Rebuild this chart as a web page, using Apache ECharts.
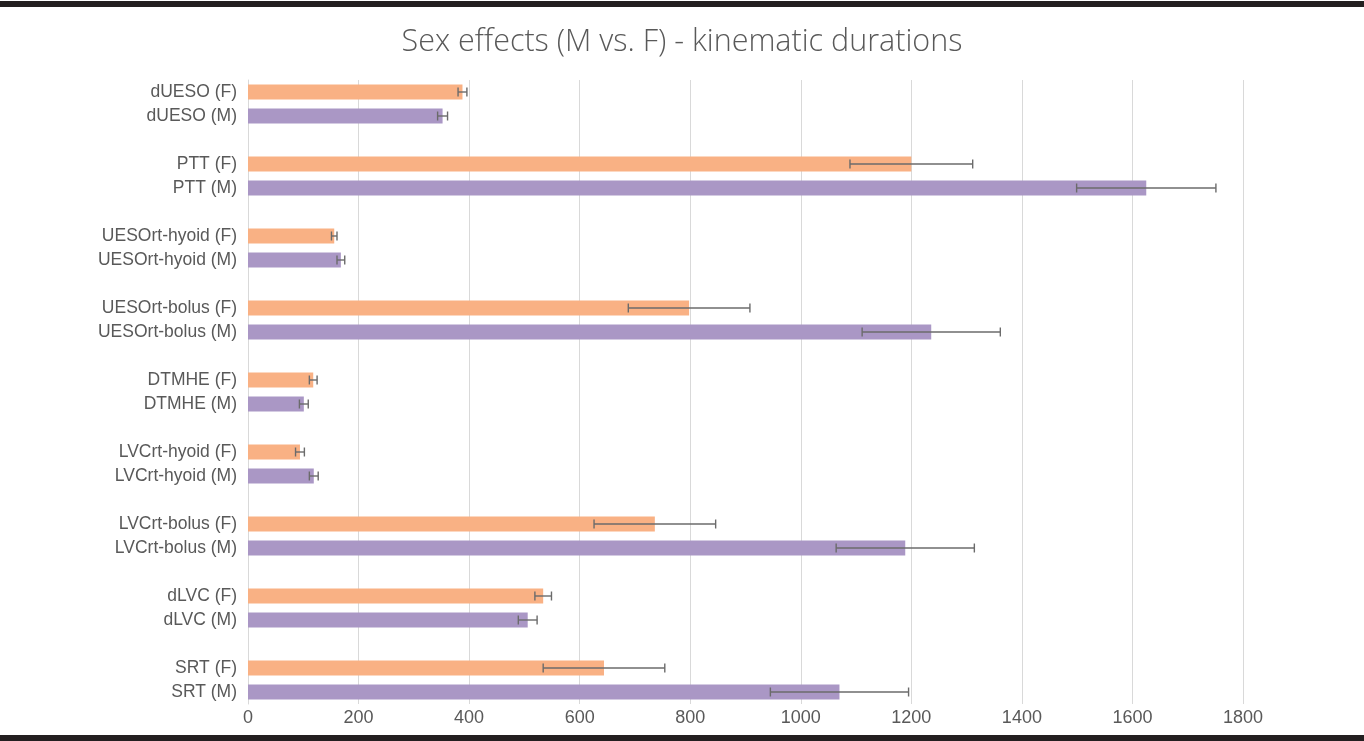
<!DOCTYPE html>
<html>
<head>
<meta charset="utf-8">
<script src="https://cdn.jsdelivr.net/npm/echarts@6/dist/echarts.min.js"></script>
<style>
html,body{margin:0;padding:0;background:#fff;}
#chart{width:1364px;height:741px;}
</style>
</head>
<body>
<div id="chart"></div>
<script>
// ---- data ----
const groups = ['dUESO', 'PTT', 'UESOrt-hyoid', 'UESOrt-bolus', 'DTMHE', 'LVCrt-hyoid', 'LVCrt-bolus', 'dLVC', 'SRT'];
const femaleValues = [388, 1200, 156, 798, 118, 94, 736, 534, 644];
const femaleErrors = [8, 111, 5, 110, 7, 8, 110, 15, 110];
const maleValues = [352, 1625, 168, 1236, 101, 119, 1189, 506, 1070];
const maleErrors = [9, 126, 7, 125, 8, 8, 125, 17, 125];
const xTicks = [0, 200, 400, 600, 800, 1000, 1200, 1400, 1600, 1800];
const titleText = 'Sex effects (M vs. F) - kinematic durations';

// ---- build categories (with empty spacer rows between groups) ----
const categories = [];
const fData = [], mData = [], errData = [];
groups.forEach((g, i) => {
  if (i > 0) { categories.push(''); fData.push(null); mData.push(null); }
  const fi = categories.length;
  categories.push(g + ' (F)'); fData.push(femaleValues[i]); mData.push(null);
  errData.push([femaleValues[i], fi, femaleErrors[i]]);
  const mi = categories.length;
  categories.push(g + ' (M)'); fData.push(null); mData.push(maleValues[i]);
  errData.push([maleValues[i], mi, maleErrors[i]]);
});

const chart = echarts.init(document.getElementById('chart'));
const textColor = '#595959';
chart.setOption({
  animation: false,
  backgroundColor: '#ffffff',
  title: {
    text: titleText,
    left: 'center',
    top: 22,
    textStyle: { fontFamily: 'Open Sans', fontWeight: 300, fontSize: 30.5, color: textColor }
  },
  graphic: [
    { type: 'rect', left: 0, top: 1, shape: { width: 1364, height: 6 }, style: { fill: '#231f20' } },
    { type: 'rect', left: 0, top: 735, shape: { width: 1364, height: 6 }, style: { fill: '#231f20' } }
  ],
  grid: { left: 248, right: 121, top: 80, height: 624, containLabel: false },
  xAxis: {
    type: 'value',
    min: xTicks[0], max: xTicks[xTicks.length - 1], interval: xTicks[1] - xTicks[0],
    axisLine: { show: false },
    axisTick: { show: false },
    splitLine: { show: true, lineStyle: { color: '#d9d9d9', width: 1 } },
    axisLabel: { color: textColor, fontFamily: 'Liberation Sans', fontSize: 18, margin: 5,
      formatter: v => String(v) }
  },
  yAxis: {
    type: 'category',
    inverse: true,
    data: categories,
    axisLine: { show: true, lineStyle: { color: '#d9d9d9' } },
    axisTick: { show: false },
    axisLabel: { color: textColor, fontFamily: 'Liberation Sans', fontSize: 17.5, margin: 11, interval: 0 }
  },
  series: [
    {
      name: 'F', type: 'bar', data: fData, barWidth: 15, barGap: '-100%',
      itemStyle: { color: '#F9B184' }
    },
    {
      name: 'M', type: 'bar', data: mData, barWidth: 15, barGap: '-100%',
      itemStyle: { color: '#AA97C5' }
    },
    {
      name: 'err', type: 'custom', data: errData, z: 10,
      encode: { x: 0, y: 1 },
      renderItem: function (params, api) {
        const v = api.value(0), c = api.value(1), e = api.value(2);
        const lo = api.coord([v - e, c]);
        const hi = api.coord([v + e, c]);
        const h = 4.5;
        const style = { stroke: '#6b6b6b', lineWidth: 1.4 };
        return {
          type: 'group',
          children: [
            { type: 'line', shape: { x1: lo[0], y1: lo[1], x2: hi[0], y2: hi[1] }, style: style },
            { type: 'line', shape: { x1: lo[0], y1: lo[1] - h, x2: lo[0], y2: lo[1] + h }, style: style },
            { type: 'line', shape: { x1: hi[0], y1: hi[1] - h, x2: hi[0], y2: hi[1] + h }, style: style }
          ]
        };
      }
    }
  ]
});
</script>
</body>
</html>
